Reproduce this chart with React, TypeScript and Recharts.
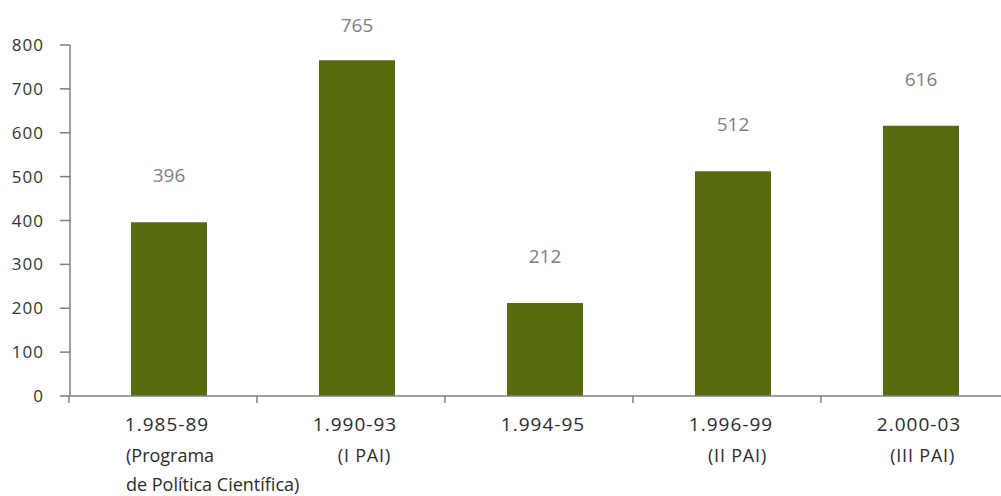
import React from 'react';
import { BarChart, Bar, XAxis, YAxis, LabelList } from 'recharts';

const categories = ['1.985-89', '1.990-93', '1.994-95', '1.996-99', '2.000-03'];
const subLine1 = ['(Programa', '(I PAI)', '', '(II PAI)', '(III PAI)'];
const subLine2 = ['de Política Científica)', '', '', '', ''];
const values = [396, 765, 212, 512, 616];
const yTicks = [0, 100, 200, 300, 400, 500, 600, 700, 800];

const data = categories.map((c, i) => ({ name: c, value: values[i] }));

const FONT = '"Open Sans", "Noto Sans", sans-serif';
const AXIS = '#7f7f7f';

const XTick = (props: any) => {
  const { x, y, payload, index } = props;
  const i = index ?? categories.indexOf(payload.value);
  const s1 = subLine1[i];
  const s2 = subLine2[i];
  const first = i === 0;
  return (
    <g>
      <line x1={x - 100} x2={x - 100} y1={y} y2={y + 7} stroke={AXIS} strokeWidth={1.5} />
      <text x={x - 2} y={y + 35} textAnchor="middle" fontFamily={FONT} fontSize={19} letterSpacing={1} fill="#2b2b2b">
        {payload.value}
      </text>
      {s1 ? (
        <text x={first ? x - 43 : x + 34} y={y + 66} textAnchor={first ? 'start' : 'end'} fontFamily={FONT} fontSize={18} letterSpacing={first ? 0 : 0.8} fill="#2b2b2b">
          {s1}
        </text>
      ) : null}
      {s2 ? (
        <text x={x - 43} y={y + 95} textAnchor="start" fontFamily={FONT} fontSize={18} fill="#2b2b2b">
          {s2}
        </text>
      ) : null}
    </g>
  );
};

const ValueLabel = (props: any) => {
  const { x, y, width, value } = props;
  return (
    <text x={x + width / 2} y={Math.max(y - 40, 32)} textAnchor="middle" fontFamily={FONT} fontSize={19} fill="#808080">
      {value}
    </text>
  );
};

export default function App() {
  return (
    <div style={{ position: 'absolute', left: 0, top: 0, width: 1001, height: 496, overflow: 'hidden', background: '#fff' }}>
      <BarChart width={1015} height={496} data={data} margin={{ top: 45, right: 0, bottom: 0, left: 0 }}>
        <XAxis
          dataKey="name"
          height={100}
          padding={{ left: 5, right: 0 }}
          tickLine={false}
          tickSize={0}
          tickMargin={0}
          axisLine={{ stroke: AXIS, strokeWidth: 1.5 }}
          tick={<XTick />}
          interval={0}
        />
        <YAxis
          width={70}
          domain={[0, 800]}
          ticks={yTicks}
          tickSize={10}
          tickMargin={16}
          axisLine={{ stroke: AXIS, strokeWidth: 1.5 }}
          tickLine={{ stroke: AXIS, strokeWidth: 1.5 }}
          tick={{ fontFamily: FONT, fontSize: 17, fill: '#333', letterSpacing: 1 }}
        />
        <Bar dataKey="value" fill="#566B10" barSize={76} isAnimationActive={false}>
          <LabelList dataKey="value" content={<ValueLabel />} />
        </Bar>
      </BarChart>
    </div>
  );
}
